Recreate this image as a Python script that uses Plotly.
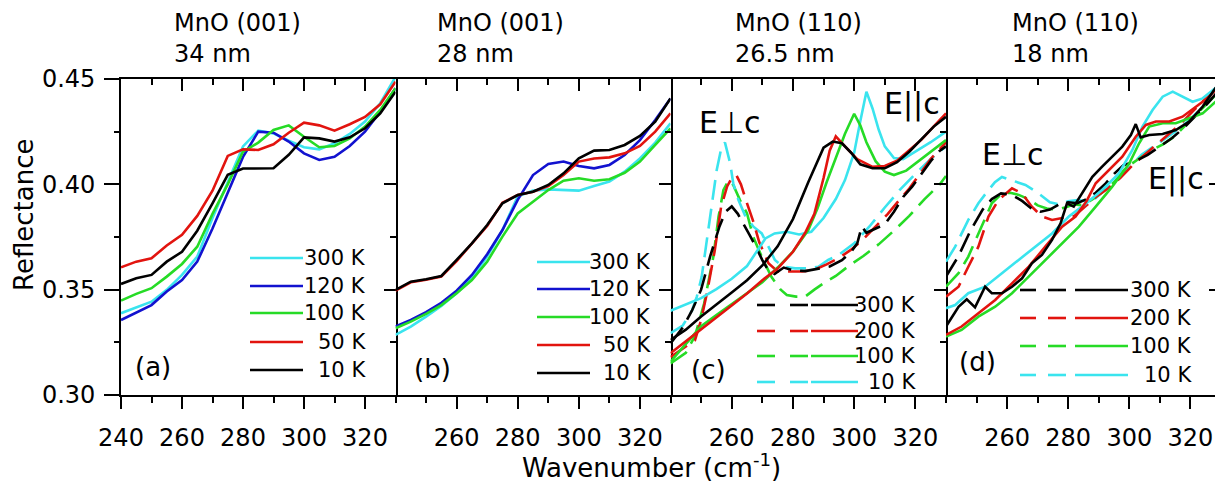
import plotly.graph_objects as go

# ---------------- data (wavenumber in cm^-1, reflectance) ----------------
grid_ab = [240, 245, 250, 255, 260, 265, 270, 275, 280, 285, 290, 295, 300, 305, 310, 315, 320, 325, 330]

# Panel (a) MnO (001) 34 nm
a_300K = [0.3388, 0.3416, 0.3443, 0.3499, 0.3570, 0.3657, 0.3840, 0.4010, 0.4180, 0.4255, 0.4242, 0.4207, 0.4176, 0.4166, 0.4195, 0.4239, 0.4298, 0.4385, 0.4510]
a_120K = [0.3356, 0.3391, 0.3427, 0.3491, 0.3546, 0.3633, 0.3790, 0.3960, 0.4130, 0.4250, 0.4245, 0.4203, 0.4147, 0.4116, 0.4131, 0.4182, 0.4250, 0.4345, 0.4456]
a_100K = [0.3448, 0.3480, 0.3507, 0.3562, 0.3622, 0.3704, 0.3860, 0.4000, 0.4155, 0.4198, 0.4258, 0.4280, 0.4226, 0.4176, 0.4182, 0.4218, 0.4274, 0.4353, 0.4456]
a_50K = [0.3606, 0.3633, 0.3649, 0.3710, 0.3760, 0.3850, 0.3970, 0.4135, 0.4166, 0.4163, 0.4190, 0.4245, 0.4293, 0.4280, 0.4255, 0.4285, 0.4320, 0.4380, 0.4487]
a_10K = [0.3527, 0.3554, 0.3570, 0.3633, 0.3680, 0.3780, 0.3910, 0.4045, 0.4075, 0.4076, 0.4076, 0.4140, 0.4223, 0.4218, 0.4203, 0.4223, 0.4266, 0.4337, 0.4440]

# Panel (b) MnO (001) 28 nm
b_300K = [0.3285, 0.3325, 0.3372, 0.3423, 0.3483, 0.3554, 0.3657, 0.3783, 0.3942, 0.3970, 0.3976, 0.3973, 0.3970, 0.3992, 0.4013, 0.4060, 0.4123, 0.4198, 0.4290]
b_120K = [0.3325, 0.3356, 0.3393, 0.3438, 0.3495, 0.3570, 0.3668, 0.3783, 0.3926, 0.4044, 0.4097, 0.4108, 0.4087, 0.4076, 0.4092, 0.4139, 0.4210, 0.4305, 0.4408]
b_100K = [0.3317, 0.3348, 0.3385, 0.3427, 0.3483, 0.3546, 0.3633, 0.3752, 0.3862, 0.3918, 0.3973, 0.4017, 0.4029, 0.4017, 0.4024, 0.4055, 0.4108, 0.4187, 0.4266]
b_50K = [0.3495, 0.3535, 0.3547, 0.3562, 0.3636, 0.3717, 0.3802, 0.3913, 0.3949, 0.3965, 0.3992, 0.4044, 0.4108, 0.4123, 0.4128, 0.4147, 0.4182, 0.4250, 0.4337]
b_10K = [0.3499, 0.3538, 0.3549, 0.3565, 0.3641, 0.3720, 0.3807, 0.3910, 0.3949, 0.3965, 0.3997, 0.4052, 0.4123, 0.4160, 0.4163, 0.4187, 0.4230, 0.4297, 0.4408]

# Panel (c) MnO (110) 26.5 nm, E||c (solid)
c_par_300K_x = [240, 245, 250, 255, 260, 265, 270, 275, 280, 285, 290, 293, 296, 299, 302, 306, 310, 314, 318, 322, 326, 330]
c_par_300K = [0.3261, 0.3310, 0.3373, 0.3428, 0.3487, 0.3545, 0.3615, 0.3706, 0.3835, 0.4010, 0.4174, 0.4203, 0.4195, 0.4150, 0.4095, 0.4076, 0.4076, 0.4105, 0.4155, 0.4215, 0.4274, 0.4321]
c_par_200K_x = [240, 245, 250, 255, 260, 265, 270, 275, 280, 284, 287, 290, 292, 294, 297, 301, 306, 310, 314, 318, 322, 326, 330]
c_par_200K = [0.3198, 0.3255, 0.3308, 0.3368, 0.3423, 0.3482, 0.3545, 0.3600, 0.3680, 0.3770, 0.3860, 0.4030, 0.4160, 0.4228, 0.4180, 0.4120, 0.4083, 0.4087, 0.4112, 0.4162, 0.4212, 0.4275, 0.4337]
c_par_100K_x = [240, 245, 250, 255, 260, 265, 270, 275, 280, 285, 288, 291, 294, 297, 300, 302, 304, 307, 310, 313, 317, 322, 326, 330]
c_par_100K = [0.3158, 0.3240, 0.3326, 0.3380, 0.3432, 0.3485, 0.3535, 0.3605, 0.3680, 0.3783, 0.3885, 0.4010, 0.4130, 0.4240, 0.4335, 0.4280, 0.4200, 0.4110, 0.4060, 0.4044, 0.4065, 0.4120, 0.4165, 0.4210]
c_par_10K_x = [240, 245, 250, 255, 260, 265, 268, 271, 274, 278, 282, 286, 290, 294, 297, 300, 302, 304, 306, 308, 310, 313, 316, 320, 325, 330]
c_par_10K = [0.3400, 0.3430, 0.3460, 0.3503, 0.3552, 0.3612, 0.3680, 0.3743, 0.3767, 0.3775, 0.3762, 0.3775, 0.3840, 0.3930, 0.4020, 0.4150, 0.4300, 0.4440, 0.4360, 0.4260, 0.4180, 0.4125, 0.4120, 0.4155, 0.4200, 0.4250]

# Panel (c) E perp c (dashed)
c_perp_300K_x = [240, 244, 247, 250, 253, 256, 258, 260, 262, 264, 266, 268, 270, 272, 274, 277, 280, 284, 288, 292, 296, 299, 301, 302.5, 304, 307, 310, 313, 316, 319, 322, 325, 328, 330]
c_perp_300K = [0.3245, 0.3320, 0.3400, 0.3500, 0.3660, 0.3800, 0.3870, 0.3895, 0.3860, 0.3810, 0.3755, 0.3700, 0.3640, 0.3590, 0.3575, 0.3605, 0.3592, 0.3588, 0.3600, 0.3610, 0.3640, 0.3680, 0.3720, 0.3800, 0.3770, 0.3790, 0.3810, 0.3870, 0.3940, 0.3990, 0.4050, 0.4110, 0.4160, 0.4180]
c_perp_200K_x = [240, 244, 248, 250, 252, 254.5, 256.5, 258.5, 260, 261.5, 263, 265, 267, 269, 272, 275, 278, 283, 287, 291, 295, 299, 303, 307, 311, 315, 318, 321, 325, 330]
c_perp_200K = [0.3180, 0.3220, 0.3260, 0.3356, 0.3490, 0.3690, 0.3890, 0.3990, 0.4030, 0.4044, 0.4000, 0.3910, 0.3825, 0.3725, 0.3625, 0.3586, 0.3586, 0.3586, 0.3594, 0.3620, 0.3650, 0.3690, 0.3740, 0.3800, 0.3860, 0.3930, 0.3980, 0.4040, 0.4120, 0.4200]
c_perp_100K_x = [240, 245, 248, 251, 254, 255.7, 257.3, 259, 260.5, 262.7, 265, 267, 270, 273, 276, 278, 281, 284, 287, 290, 294, 298, 303, 308, 313, 318, 323, 328, 330]
c_perp_100K = [0.3150, 0.3200, 0.3280, 0.3435, 0.3657, 0.3847, 0.3973, 0.4020, 0.3997, 0.3925, 0.3862, 0.3751, 0.3650, 0.3560, 0.3500, 0.3475, 0.3467, 0.3467, 0.3500, 0.3530, 0.3565, 0.3610, 0.3660, 0.3715, 0.3780, 0.3850, 0.3930, 0.4000, 0.4040]
c_perp_10K_x = [240, 244, 247, 248.6, 250.2, 251.8, 253.5, 255.1, 256.7, 257.8, 259.5, 260.5, 262.2, 264.3, 267.1, 269.8, 272, 274.1, 276.8, 280.7, 285, 288.3, 291.5, 295, 300, 305, 310, 315, 320, 325, 330]
c_perp_10K = [0.3293, 0.3330, 0.3400, 0.3467, 0.3562, 0.3720, 0.3894, 0.4068, 0.4179, 0.4198, 0.4100, 0.4005, 0.3925, 0.3854, 0.3799, 0.3767, 0.3704, 0.3641, 0.3609, 0.3601, 0.3601, 0.3609, 0.3641, 0.3665, 0.3720, 0.3800, 0.3890, 0.3975, 0.4050, 0.4120, 0.4180]

# Panel (d) MnO (110) 18 nm, E||c (solid)
d_par_300K_x = [240, 244.1, 246.8, 249.5, 252.8, 255, 258.3, 261.6, 264.9, 268.1, 271.4, 274.7, 277.5, 279.6, 281.8, 284.6, 287.9, 291.1, 294.4, 297.7, 300.5, 302.1, 303.7, 306.5, 310.9, 315.2, 319.6, 324, 330]
d_par_300K = [0.3325, 0.3419, 0.3454, 0.3416, 0.3514, 0.3483, 0.3483, 0.3514, 0.3554, 0.3625, 0.3665, 0.3736, 0.3815, 0.3910, 0.3894, 0.3957, 0.4036, 0.4084, 0.4131, 0.4179, 0.4234, 0.4286, 0.4223, 0.4234, 0.4239, 0.4258, 0.4298, 0.4369, 0.4495]
d_par_200K_x = [240, 245.1, 250.6, 256.1, 261.6, 267.1, 272.5, 278, 282.4, 286, 289, 293.3, 297.7, 302.1, 305.4, 308.7, 313.1, 317.4, 321.8, 326.2, 330]
d_par_200K = [0.3285, 0.3325, 0.3388, 0.3451, 0.3530, 0.3609, 0.3704, 0.3799, 0.3847, 0.3920, 0.4005, 0.4068, 0.4131, 0.4226, 0.4282, 0.4298, 0.4298, 0.4321, 0.4369, 0.4416, 0.4479]
d_par_100K_x = [240, 245.1, 250.6, 256.1, 261.6, 267.1, 272.5, 278, 283.5, 289, 294.4, 300, 303.2, 306.5, 310.9, 315.2, 319.6, 324, 330]
d_par_100K = [0.3277, 0.3309, 0.3372, 0.3419, 0.3483, 0.3562, 0.3641, 0.3720, 0.3799, 0.3894, 0.3989, 0.4100, 0.4195, 0.4274, 0.4290, 0.4290, 0.4313, 0.4337, 0.4416]
d_par_10K_x = [240, 243, 247.3, 252.8, 258.3, 263.8, 269.2, 274.7, 280.2, 285.5, 291.1, 296.6, 301, 304.3, 307.6, 310.9, 314.2, 317.4, 320.7, 324, 327.3, 330]
d_par_10K = [0.3412, 0.3427, 0.3483, 0.3514, 0.3578, 0.3641, 0.3704, 0.3767, 0.3847, 0.3905, 0.3973, 0.4052, 0.4163, 0.4274, 0.4353, 0.4416, 0.4440, 0.4416, 0.4392, 0.4408, 0.4448, 0.4479]

# Panel (d) E perp c (dashed)
d_perp_300K_x = [240, 244, 248, 252, 255, 258, 261.6, 265, 268, 271, 274, 277, 280, 283, 286, 289, 292, 295, 298, 302, 306, 310, 314, 318, 322, 326, 330]
d_perp_300K = [0.3562, 0.3657, 0.3780, 0.3880, 0.3930, 0.3957, 0.3950, 0.3920, 0.3885, 0.3870, 0.3880, 0.3905, 0.3915, 0.3910, 0.3930, 0.3960, 0.4000, 0.4050, 0.4090, 0.4110, 0.4140, 0.4180, 0.4220, 0.4270, 0.4330, 0.4390, 0.4460]
d_perp_200K_x = [240, 244.1, 247.3, 250.6, 253.9, 257.2, 261.6, 264.9, 268.1, 271.4, 274.7, 278, 282, 286, 289, 293, 297, 301, 305, 309, 313, 317, 321, 325, 330]
d_perp_200K = [0.3467, 0.3514, 0.3609, 0.3704, 0.3847, 0.3926, 0.3981, 0.3957, 0.3894, 0.3847, 0.3831, 0.3840, 0.3850, 0.3900, 0.3940, 0.3980, 0.4030, 0.4090, 0.4140, 0.4190, 0.4240, 0.4290, 0.4350, 0.4410, 0.4480]
d_perp_100K_x = [240, 244.1, 247.3, 251.7, 255, 258.3, 261, 263.8, 267, 270, 273, 276, 279, 282, 285, 288, 291, 295, 299, 303, 307, 311, 315, 319, 323, 327, 330]
d_perp_100K = [0.3514, 0.3578, 0.3657, 0.3799, 0.3910, 0.3957, 0.3960, 0.3950, 0.3930, 0.3900, 0.3885, 0.3880, 0.3890, 0.3905, 0.3900, 0.3930, 0.3960, 0.4010, 0.4080, 0.4120, 0.4160, 0.4190, 0.4230, 0.4290, 0.4350, 0.4410, 0.4450]
d_perp_10K_x = [240, 243, 247.3, 250.6, 253.9, 256, 258.3, 261.6, 266, 270, 274, 277, 280, 283, 286, 289, 292, 296, 300, 304, 308, 312, 316, 320, 325, 330]
d_perp_10K = [0.3633, 0.3704, 0.3831, 0.3910, 0.3973, 0.4010, 0.4035, 0.4020, 0.3997, 0.3960, 0.3915, 0.3905, 0.3920, 0.3925, 0.3920, 0.3935, 0.3975, 0.4020, 0.4080, 0.4140, 0.4180, 0.4220, 0.4260, 0.4310, 0.4380, 0.4450]

# labels
panel_titles = [("MnO (001)", "34 nm"), ("MnO (001)", "28 nm"), ("MnO (110)", "26.5 nm"), ("MnO (110)", "18 nm")]
panel_letters = ["(a)", "(b)", "(c)", "(d)"]
x_tick_vals_first = [240, 260, 280, 300, 320]
x_tick_vals_rest = [260, 280, 300, 320]
x_minor_vals = [250, 270, 290, 310, 330]
y_tick_vals = [0.30, 0.35, 0.40, 0.45]
y_tick_text = ["0.30", "0.35", "0.40", "0.45"]
y_minor_vals = [0.325, 0.375, 0.425]
legend_ab = ["300 K", "120 K", "100 K", "50 K", "10 K"]
legend_cd = ["300 K", "200 K", "100 K", "10 K"]

# ---------------- style ----------------
FONT = "DejaVu Sans"
CYAN, BLUE, GREEN, RED, BLACK = "#3AE4EE", "#1212CF", "#26DB26", "#E2140F", "#000000"
LW = 2.6
DASH = "20px,9px"

# the page body adds an 8 px offset; page coordinates of the plot area:
OFF = 8
PAGE_W, PAGE_H = 1223, 489
PL, PR, PT, PB = 121, 1221, 79, 395          # plot area in page pixels
W, H = PAGE_W - OFF, PAGE_H - OFF
ML, MT = PL - OFF, PT - OFF
MR, MB = W - (PR - OFF), H - (PB - OFF)
PW, PH = PR - PL, PB - PT


def px(x):
    return (x - PL) / PW


def py(y):
    return (PB - y) / PH


panel_px = [(121, 395.5), (395.5, 670.5), (670.5, 946), (946, 1221)]
xnames = ["x", "x2", "x3", "x4"]

fig = go.Figure()


def add(xn, xs, ys, color, dashed=False):
    fig.add_trace(go.Scatter(x=xs, y=ys, xaxis=xn, yaxis="y", mode="lines",
                             line=dict(color=color, width=LW, dash=DASH if dashed else "solid"),
                             showlegend=False, hoverinfo="skip"))


# panel a
add("x", grid_ab, a_300K, CYAN)
add("x", grid_ab, a_120K, BLUE)
add("x", grid_ab, a_100K, GREEN)
add("x", grid_ab, a_50K, RED)
add("x", grid_ab, a_10K, BLACK)
# panel b
add("x2", grid_ab, b_300K, CYAN)
add("x2", grid_ab, b_120K, BLUE)
add("x2", grid_ab, b_100K, GREEN)
add("x2", grid_ab, b_50K, RED)
add("x2", grid_ab, b_10K, BLACK)
# panel c
add("x3", c_perp_100K_x, c_perp_100K, GREEN, True)
add("x3", c_perp_10K_x, c_perp_10K, CYAN, True)
add("x3", c_perp_200K_x, c_perp_200K, RED, True)
add("x3", c_perp_300K_x, c_perp_300K, BLACK, True)
add("x3", c_par_10K_x, c_par_10K, CYAN)
add("x3", c_par_100K_x, c_par_100K, GREEN)
add("x3", c_par_200K_x, c_par_200K, RED)
add("x3", c_par_300K_x, c_par_300K, BLACK)
# panel d
add("x4", d_perp_10K_x, d_perp_10K, CYAN, True)
add("x4", d_perp_100K_x, d_perp_100K, GREEN, True)
add("x4", d_perp_200K_x, d_perp_200K, RED, True)
add("x4", d_perp_300K_x, d_perp_300K, BLACK, True)
add("x4", d_par_10K_x, d_par_10K, CYAN)
add("x4", d_par_100K_x, d_par_100K, GREEN)
add("x4", d_par_200K_x, d_par_200K, RED)
add("x4", d_par_300K_x, d_par_300K, BLACK)

# empty traces so that the mirror axes are drawn
for i in range(4):
    fig.add_trace(go.Scatter(x=[None], y=[None], xaxis=f"x{5 + i}", yaxis="y", showlegend=False, hoverinfo="skip"))
    fig.add_trace(go.Scatter(x=[None], y=[None], xaxis=xnames[i], yaxis=f"y{2 + i}", showlegend=False, hoverinfo="skip"))

axis_common = dict(showline=True, linecolor="black", linewidth=1.6, showgrid=False, zeroline=False,
                   tickcolor="black", tickwidth=1.6)
layout = dict(width=W, height=H, margin=dict(l=ML, r=MR, t=MT, b=MB),
              paper_bgcolor="white", plot_bgcolor="white", showlegend=False,
              font=dict(family=FONT, color="black"))

for i in range(4):
    dom = [px(panel_px[i][0]), px(panel_px[i][1])]
    key = "xaxis" if i == 0 else f"xaxis{i + 1}"
    tv = x_tick_vals_first if i == 0 else x_tick_vals_rest
    layout[key] = dict(axis_common, domain=dom, range=[240, 330], anchor="y", side="bottom",
                       ticks="outside", ticklen=12, tickmode="array", tickvals=tv,
                       ticktext=[str(v) for v in tv],
                       minor=dict(tickmode="array", tickvals=x_minor_vals, ticks="outside", ticklen=6,
                                  tickwidth=1.6, tickcolor="black"),
                       tickfont=dict(size=24, family=FONT, color="black"), ticklabelstandoff=8)
    layout[f"xaxis{5 + i}"] = dict(axis_common, overlaying=xnames[i], range=[240, 330], anchor="y", side="top",
                                   ticks="inside", ticklen=12, tickmode="array", tickvals=x_tick_vals_first,
                                   minor=dict(tickmode="array", tickvals=x_minor_vals, ticks="inside", ticklen=6,
                                              tickwidth=1.6, tickcolor="black"),
                                   showticklabels=False)
    layout[f"yaxis{2 + i}"] = dict(axis_common, overlaying="y", range=[0.30, 0.45], anchor=xnames[i], side="right",
                                   ticks="inside", ticklen=12, tickmode="array", tickvals=y_tick_vals,
                                   minor=dict(tickmode="array", tickvals=y_minor_vals, ticks="inside", ticklen=6,
                                              tickwidth=1.6, tickcolor="black"),
                                   showticklabels=False)

layout["yaxis"] = dict(axis_common, domain=[0, 1], range=[0.30, 0.45], anchor="x", side="left",
                       ticks="outside", ticklen=15, tickmode="array", tickvals=y_tick_vals, ticktext=y_tick_text,
                       minor=dict(tickmode="array", tickvals=y_minor_vals, ticks="outside", ticklen=5,
                                  tickwidth=1.6, tickcolor="black"),
                       tickfont=dict(size=24, family=FONT, color="black"), ticklabelstandoff=4)

shapes = []
annotations = []


def text(x, y, s, size, xanchor="center", angle=0):
    annotations.append(dict(x=px(x), y=py(y), xref="paper", yref="paper", text=s, showarrow=False,
                            xanchor=xanchor, yanchor="middle", textangle=angle,
                            font=dict(size=size, family=FONT, color="black")))


def seg(x0, x1, y, color):
    shapes.append(dict(type="line", xref="paper", yref="paper", x0=px(x0), x1=px(x1), y0=py(y), y1=py(y),
                       line=dict(color=color, width=LW)))


# titles above panels
title_x = [172, 435, 733, 1010]
for i, (l1, l2) in enumerate(panel_titles):
    text(title_x[i], 23, l1, 24, "left")
    text(title_x[i], 54, l2, 24, "left")

# panel letters
letter_pos = [(153, 367), (432, 369), (708, 370), (977, 362)]
for s, (x, y) in zip(panel_letters, letter_pos):
    text(x, y, s, 26)

# legends for (a) and (b)
colors_ab = [CYAN, BLUE, GREEN, RED, BLACK]
for rows, (lx0, lx1, tx) in [([258, 286, 313, 342, 370], (250, 303, 368)),
                             ([262, 289, 317, 345, 373], (537, 590, 653))]:
    for lab, c, y in zip(legend_ab, colors_ab, rows):
        seg(lx0, lx1, y, c)
        text(tx, y, lab, 21, "right")

# legends for (c) and (d): dashed (E perp c) + solid (E||c) sample
colors_cd = [BLACK, RED, GREEN, CYAN]
for rows, (d1, d2, sl, tx) in [([305, 331, 356, 382], ((757, 775), (790, 808), (811, 858), 918)),
                               ([290, 318, 346, 375], ((1020, 1036), (1048, 1066), (1075, 1128), 1194))]:
    for lab, c, y in zip(legend_cd, colors_cd, rows):
        seg(d1[0], d1[1], y, c)
        seg(d2[0], d2[1], y, c)
        seg(sl[0], sl[1], y, c)
        text(tx, y, lab, 21, "right")

# polarization labels
text(730, 123, "E\u22a5c", 30)
text(912, 104, "E||c", 30)
text(1013, 154, "E\u22a5c", 30)
text(1176, 179, "E||c", 30)

# axis titles
text(651, 466, "Wavenumber (cm<sup>-1</sup>)", 26)
text(24, 215, "Reflectance", 26, angle=-90)

layout["shapes"] = shapes
layout["annotations"] = annotations
fig.update_layout(**layout)
fig.write_html("out.html")
